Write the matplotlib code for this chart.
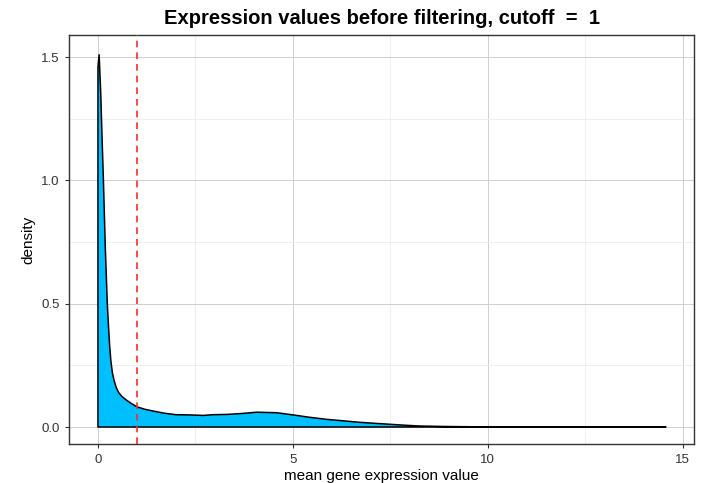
import matplotlib
matplotlib.use("Agg")
import matplotlib.pyplot as plt

# density curve
expr = [0.0, 0.03, 0.07, 0.11, 0.14, 0.19, 0.24, 0.27, 0.30, 0.33, 0.37, 0.42, 0.47,
        0.53, 0.62, 0.74, 0.87, 1.0, 1.2, 1.41, 1.7, 2.0, 2.36, 2.7, 2.95, 3.3, 3.7,
        4.07, 4.58, 5.01, 5.4, 5.87, 6.3, 6.72, 7.1, 7.49, 7.9, 8.26, 8.95, 9.6, 10.5,
        12.0, 13.5, 14.57]
dens = [1.46, 1.51, 1.36, 1.15, 1.0, 0.72, 0.5, 0.41, 0.33, 0.27, 0.22, 0.185, 0.16,
        0.14, 0.123, 0.108, 0.094, 0.082, 0.072, 0.065, 0.056, 0.05, 0.049, 0.047,
        0.05, 0.051, 0.055, 0.06, 0.058, 0.049, 0.04, 0.031, 0.025, 0.019, 0.015,
        0.011, 0.007, 0.004, 0.002, 0.001, 0.001, 0.0005, 0.0003, 0.0002]
cutoff = 1

plt.rcParams['font.family'] = ['Liberation Sans', 'DejaVu Sans']

fig = plt.figure(figsize=(7.09, 4.83), dpi=100)
ax = fig.add_axes([0.0977, 0.0807, 0.8811, 0.8468])

# polygon with outline, like geom_density
px = [expr[0]] + expr + [expr[-1]]
py = [0] + dens + [0]
ax.fill(px, py, facecolor='#00BFFF', edgecolor='black', linewidth=1.1,
        joinstyle='round', zorder=3)

ax.axvline(cutoff, color='#ff2a2a', linestyle=(0, (4, 3)), linewidth=1.2, zorder=4)

ax.set_xlim(-0.736, 15.29)
ax.set_ylim(-0.069, 1.59)
ax.set_xticks([0, 5, 10, 15])
ax.set_yticks([0.0, 0.5, 1.0, 1.5])
ax.set_yticklabels(['0.0', '0.5', '1.0', '1.5'])
ax.set_xticks([2.5, 7.5, 12.5], minor=True)
ax.set_yticks([0.25, 0.75, 1.25], minor=True)
ax.tick_params(which='minor', length=0)
ax.tick_params(which='major', length=3, width=0.8, color='#333333',
               labelsize=9.5, labelcolor='#333333', pad=4)
ax.grid(True, which='major', color='#cfcfcf', linewidth=0.7)
ax.grid(True, which='minor', color='#ededed', linewidth=0.6)
ax.set_axisbelow(True)
for s in ax.spines.values():
    s.set_color('#333333')
    s.set_linewidth(1.0)

ax.set_xlabel('mean gene expression value', fontsize=11, labelpad=2)
ax.set_ylabel('density', fontsize=11, labelpad=4)
ax.set_title('Expression values before filtering, cutoff  =  1',
             fontsize=14.5, fontweight='bold', pad=8)

fig.savefig('out.png', dpi=100)
